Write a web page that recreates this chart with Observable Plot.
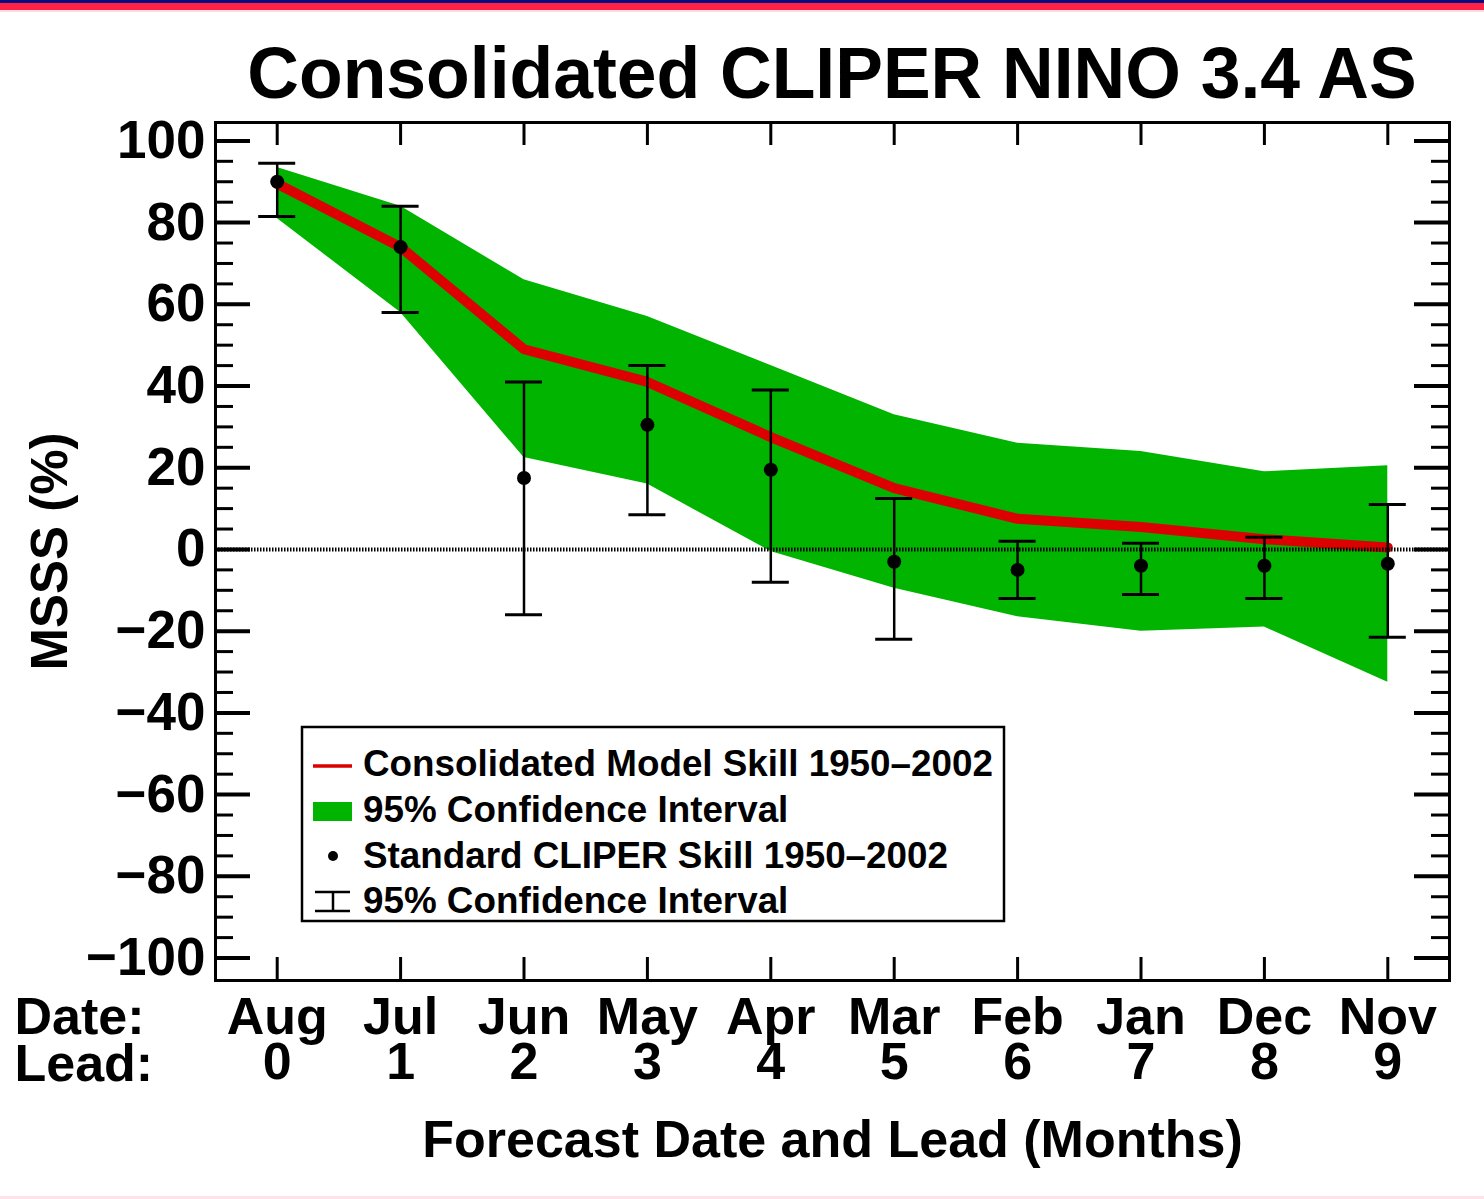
<!DOCTYPE html>
<html>
<head>
<meta charset="utf-8">
<script src="https://cdn.jsdelivr.net/npm/d3@7"></script>
<script src="https://cdn.jsdelivr.net/npm/@observablehq/plot@0.6"></script>
<style>
  html, body { margin: 0; padding: 0; background: #fff; }
  #wrap { position: relative; width: 1484px; height: 1199px; overflow: hidden; background: #fff;
          font-family: "Liberation Sans", Arial, sans-serif; font-weight: bold; color: #000; }
  .band { position: absolute; left: 0; width: 1484px; }
  #title { position: absolute; left: 215px; width: 1234px; top: 38px; text-align: center;
           font-size: 71.5px; line-height: 71.5px; white-space: nowrap; }
  #chart { position: absolute; left: 0; top: 110px; }
  #legend { position: absolute; left: 0; top: 0; }
</style>
</head>
<body>
<div id="wrap">
  <div class="band" style="top:0;height:3px;background:#0a0a80"></div>
  <div class="band" style="top:3px;height:7px;background:#ff2244"></div>
  <div class="band" style="top:10px;height:2px;background:#ffdde6"></div>
  <div id="title">Consolidated CLIPER NINO 3.4 AS</div>
  <div id="chart"></div>
  <div class="band" style="top:1196px;height:3px;background:#ffe3ea"></div>
</div>
<script>
// ---- data ----
const months = ["Aug", "Jul", "Jun", "May", "Apr", "Mar", "Feb", "Jan", "Dec", "Nov"];
const leads = [0, 1, 2, 3, 4, 5, 6, 7, 8, 9];
// Consolidated model skill (red line) and its 95% CI (green band)
const modelSkill = [89.5, 74, 49, 41, 27.5, 15, 7.5, 5.5, 2.5, 0.5];
const bandUpper  = [93.5, 84, 66, 57, 45, 33, 26, 24, 19, 20.5];
const bandLower  = [81, 58, 22.5, 16, -0.5, -9.5, -16.5, -20, -19, -32.5];
// Standard CLIPER skill (dots) and its 95% CI (error bars)
const cliperSkill = [90, 74, 17.5, 30.5, 19.5, -3, -5, -4, -4, -3.5];
const cliperUpper = [94.5, 84, 41, 45, 39, 12.5, 2, 1.5, 3, 11];
const cliperLower = [81.5, 58, -16, 8.5, -8, -22, -12, -11, -12, -21.5];
// axis ticks
const yMajor = [-100, -80, -60, -40, -20, 0, 20, 40, 60, 80, 100];
const yMinor = d3.range(-100, 101, 5).filter(v => v % 20 !== 0);

const legendItems = [
  "Consolidated Model Skill 1950\u20132002",
  "95% Confidence Interval",
  "Standard CLIPER Skill 1950\u20132002",
  "95% Confidence Interval"
];

const rows = leads.map((l, i) => ({
  lead: l, month: months[i],
  model: modelSkill[i], up: bandUpper[i], lo: bandLower[i],
  c: cliperSkill[i], cu: cliperUpper[i], cl: cliperLower[i]
}));

const W = 1484, H = 1089, mL = 215, mR = 35, mT = 12, mB = 219;
const pw = W - mL - mR, ph = H - mT - mB;
const capHalf = 0.15;

const plot = Plot.plot({
  width: W, height: H,
  marginLeft: mL, marginRight: mR, marginTop: mT, marginBottom: mB,
  style: { fontFamily: "Liberation Sans, Arial, sans-serif", fontWeight: "bold", background: "white", color: "black", overflow: "visible" },
  x: { domain: [-0.5, 9.5] },
  y: { domain: [-105.5, 104.5] },
  marks: [
    Plot.areaY(rows, { x: "lead", y1: "lo", y2: "up", fill: "#00b400" }),
    Plot.lineY(rows, { x: "lead", y: "model", stroke: "#dd0000", strokeWidth: 10, strokeLinejoin: "miter" }),
    Plot.ruleY([0], { stroke: "#000", strokeWidth: 4, strokeDasharray: "1.5,1.5" }),
    Plot.ruleX(rows, { x: "lead", y1: "cl", y2: "cu", stroke: "#000", strokeWidth: 2.5 }),
    Plot.ruleY(rows, { y: "cu", x1: d => d.lead - capHalf, x2: d => d.lead + capHalf, stroke: "#000", strokeWidth: 3 }),
    Plot.ruleY(rows, { y: "cl", x1: d => d.lead - capHalf, x2: d => d.lead + capHalf, stroke: "#000", strokeWidth: 3 }),
    Plot.dot(rows, { x: "lead", y: "c", r: 7, fill: "#000", stroke: null }),
    // inward frame ticks
    Plot.tickY(yMajor, { y: d => d, insetRight: pw - 35, strokeWidth: 4 }),
    Plot.tickY(yMajor, { y: d => d, insetLeft: pw - 35, strokeWidth: 4 }),
    Plot.tickY(yMinor, { y: d => d, insetRight: pw - 18, strokeWidth: 3 }),
    Plot.tickY(yMinor, { y: d => d, insetLeft: pw - 18, strokeWidth: 3 }),
    Plot.tickX(leads, { x: d => d, insetBottom: ph - 23, strokeWidth: 3 }),
    Plot.tickX(leads, { x: d => d, insetTop: ph - 23, strokeWidth: 3 }),
    Plot.frame({ stroke: "#000", strokeWidth: 3 }),
    Plot.axisY(yMajor, { tickSize: 0, tickPadding: 10, fontSize: 53, label: null }),
    Plot.axisX(leads, { tickSize: 0, tickPadding: 21, fontSize: 52, lineHeight: 0.87,
                        tickFormat: i => months[i] + "\n" + i, label: null }),
    Plot.text(["MSSS (%)"], { text: d => d, frameAnchor: "left", dx: -165, rotate: -90, fontSize: 51,
                               textAnchor: "middle", lineAnchor: "middle" }),
    Plot.text(["Forecast Date and Lead (Months)"], { text: d => d, frameAnchor: "bottom", dy: 160, fontSize: 52,
                               textAnchor: "middle", lineAnchor: "middle" }),
    Plot.text(["Date:"], { text: d => d, frameAnchor: "bottom-left", dx: -201, dy: 37, textAnchor: "start",
                               lineAnchor: "middle", fontSize: 52 }),
    Plot.text(["Lead:"], { text: d => d, frameAnchor: "bottom-left", dx: -201, dy: 84, textAnchor: "start",
                               lineAnchor: "middle", fontSize: 52 })
  ]
});
document.getElementById("chart").appendChild(plot);

// ---- legend (boxed, inside the plot area) ----
const wrap = d3.select("#wrap");
const lg = wrap.append("svg").attr("id", "legend").attr("width", 1484).attr("height", 1199)
  .style("position", "absolute").style("left", "0px").style("top", "0px").style("pointer-events", "none");
lg.append("rect").attr("x", 302).attr("y", 727).attr("width", 702).attr("height", 194)
  .attr("fill", "white").attr("stroke", "black").attr("stroke-width", 2.5);
const rowY = [763, 809, 855, 900];
lg.append("line").attr("x1", 313).attr("x2", 352).attr("y1", rowY[0] + 3).attr("y2", rowY[0] + 3)
  .attr("stroke", "#dd0000").attr("stroke-width", 3.5);
lg.append("rect").attr("x", 313).attr("y", rowY[1] - 7).attr("width", 39).attr("height", 19).attr("fill", "#00b400");
lg.append("circle").attr("cx", 333).attr("cy", rowY[2] + 1).attr("r", 5).attr("fill", "black");
const ib = lg.append("g").attr("stroke", "black").attr("stroke-width", 2.5);
ib.append("line").attr("x1", 315).attr("x2", 350).attr("y1", rowY[3] - 8).attr("y2", rowY[3] - 8);
ib.append("line").attr("x1", 315).attr("x2", 350).attr("y1", rowY[3] + 11).attr("y2", rowY[3] + 11);
ib.append("line").attr("x1", 333).attr("x2", 333).attr("y1", rowY[3] - 8).attr("y2", rowY[3] + 11);
legendItems.forEach((t, i) => {
  lg.append("text").attr("x", 363).attr("y", rowY[i] + 13)
    .attr("font-family", "Liberation Sans, Arial, sans-serif").attr("font-weight", "bold")
    .attr("font-size", 36.8).attr("fill", "black").text(t);
});
</script>
</body>
</html>
